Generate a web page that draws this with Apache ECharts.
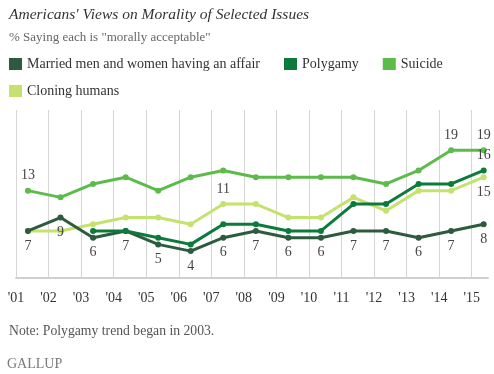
<!DOCTYPE html>
<html>
<head>
<meta charset="utf-8">
<script src="https://cdn.jsdelivr.net/npm/echarts@6/dist/echarts.min.js"></script>
<style>
html,body{margin:0;padding:0;background:#fff;}
#c{width:494px;height:374px;}
</style>
</head>
<body>
<div id="c"></div>
<script>
// Survey dates (Gallup Values and Beliefs poll, each May)
var surveyDates = ['2001-05-15','2002-05-15','2003-05-15','2004-05-15','2005-05-15','2006-05-15','2007-05-15','2008-05-15','2009-05-15','2010-05-15','2011-05-15','2012-05-15','2013-05-15','2014-05-15','2015-05-15'];
var tickYears = [2001,2002,2003,2004,2005,2006,2007,2008,2009,2010,2011,2012,2013,2014,2015];
var seriesNames = ['Married men and women having an affair','Polygamy','Suicide','Cloning humans'];
var affair   = [7, 9, 6, 7, 5, 4, 6, 7, 6, 6, 7, 7, 6, 7, 8];
var polygamy = [null, null, 7, 7, 6, 5, 8, 8, 7, 7, 11, 11, 14, 14, 16];
var suicide  = [13, 12, 14, 15, 13, 15, 16, 15, 15, 15, 15, 14, 16, 19, 19];
var cloning  = [7, 7, 8, 9, 9, 8, 11, 11, 9, 9, 12, 10, 13, 13, 15];
// which survey years carry a value label, above or below the point
var affairLabeledBelow   = [2001,2002,2003,2004,2005,2006,2007,2008,2009,2010,2011,2012,2013,2014,2015];
var polygamyLabeledAbove = [2015];
var suicideLabeledAbove  = [2001,2014,2015];
var cloningLabeledAbove  = [2007];
var cloningLabeledBelow  = [2015];

function toYearFraction(s){
  var d = new Date(s + 'T00:00:00Z');
  var y = d.getUTCFullYear();
  var start = Date.UTC(y,0,1), end = Date.UTC(y+1,0,1);
  return y + (d.getTime()-start)/(end-start);
}
function build(values, above, below){
  return values.map(function(v,i){
    var x = toYearFraction(surveyDates[i]);
    var yr = Math.floor(x);
    var item = {value:[x, v]};
    if (v !== null) {
      if (above.indexOf(yr) >= 0) item.label = {show:true, position:'top'};
      else if (below.indexOf(yr) >= 0) item.label = {show:true, position:'bottom'};
    }
    return item;
  });
}
var serif = '"Liberation Serif", "DejaVu Serif", serif';
var colors = ['#2c5b3e','#0b7a3b','#5dbb4b','#c6e26e'];

function lineSeries(name, data, color, z){
  return {
    name:name, type:'line', data:data, z:z,
    symbol:'circle', symbolSize:6, connectNulls:false,
    lineStyle:{color:color, width:3},
    itemStyle:{color:color},
    label:{show:false, fontFamily:serif, fontSize:14, color:'#444', distance:5,
      formatter:function(p){return p.value[1];}},
    emphasis:{disabled:true},
    animation:false
  };
}

var chart = echarts.init(document.getElementById('c'), null, {renderer:'canvas'});
chart.setOption({
  animation:false,
  backgroundColor:'#fff',
  color:colors,
  title:[
    {text:"Americans' Views on Morality of Selected Issues", left:9, top:7, padding:0,
     textStyle:{fontFamily:serif, fontStyle:'italic', fontWeight:'normal', fontSize:15.5, color:'#333'}},
    {text:'% Saying each is "morally acceptable"', left:9, top:31, padding:0,
     textStyle:{fontFamily:serif, fontWeight:'normal', fontSize:13, color:'#666'}}
  ],
  legend:[
    {data:seriesNames.slice(0,3), left:9, top:57, padding:0, icon:'rect', itemWidth:13, itemHeight:12, itemGap:24,
     textStyle:{fontFamily:serif, fontSize:14, color:'#333'}, selectedMode:false},
    {data:seriesNames.slice(3), left:9, top:84, padding:0, icon:'rect', itemWidth:13, itemHeight:12, itemGap:24,
     textStyle:{fontFamily:serif, fontSize:14, color:'#333'}, selectedMode:false}
  ],
  grid:{left:16, right:6, top:110, bottom:96, containLabel:false},
  xAxis:{
    type:'value', min:tickYears[0], max:2015.5, interval:1,
    axisLine:{show:true, lineStyle:{color:'#cfcfcf', width:2}},
    axisTick:{show:false},
    splitLine:{show:true, showMaxLine:false, lineStyle:{color:'#d6d6d6', width:1}},
    axisLabel:{show:true, showMaxLabel:false, margin:13, fontFamily:serif, fontSize:14, color:'#333',
      formatter:function(v){ return tickYears.indexOf(v) >= 0 ? "'" + String(v).slice(2) : ''; }}
  },
  yAxis:{type:'value', min:0, max:25, show:false},
  graphic:[
    {type:'text', left:9, top:324, style:{text:'Note: Polygamy trend began in 2003.', font:'13.7px ' + serif, fill:'#555'}},
    {type:'text', left:7, top:357, style:{text:'GALLUP', font:'14px ' + serif, fill:'#7a7a7a'}}
  ],
  series:[
    lineSeries(seriesNames[3], build(cloning, cloningLabeledAbove, cloningLabeledBelow), colors[3], 2),
    lineSeries(seriesNames[2], build(suicide, suicideLabeledAbove, []), colors[2], 3),
    lineSeries(seriesNames[0], build(affair, [], affairLabeledBelow), colors[0], 4),
    lineSeries(seriesNames[1], build(polygamy, polygamyLabeledAbove, []), colors[1], 5)
  ]
});
</script>
</body>
</html>
